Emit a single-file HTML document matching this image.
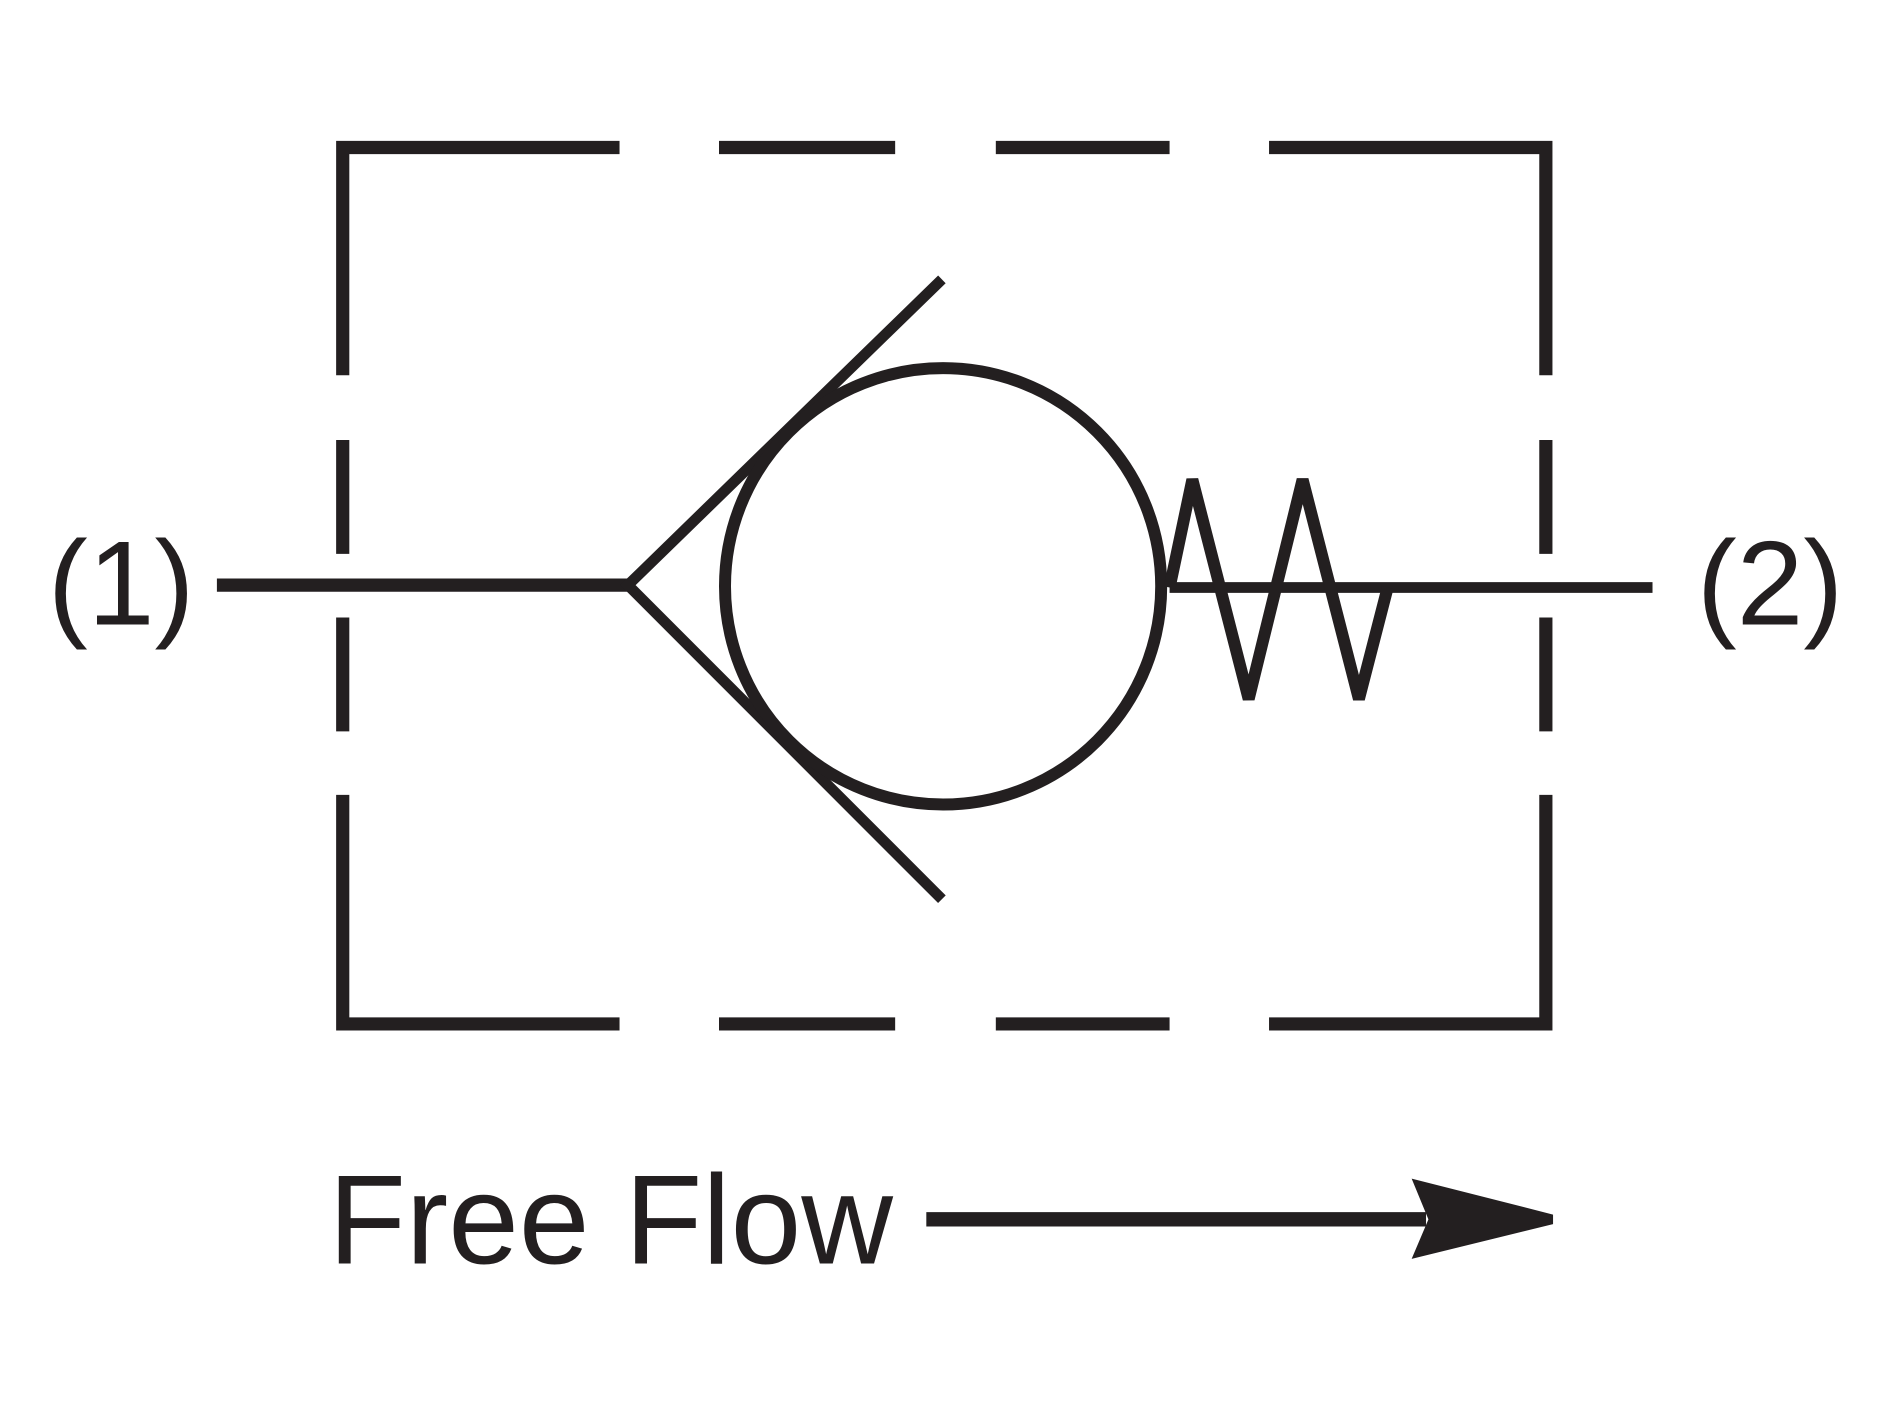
<!DOCTYPE html>
<html><head><style>html,body{margin:0;padding:0;background:#fff}svg{display:block}</style></head>
<body>
<svg width="1879" height="1410" viewBox="0 0 1568 1176" preserveAspectRatio="none" xmlns="http://www.w3.org/2000/svg">
<g stroke="#231f20" stroke-width="11" fill="none">
<path d="M286 313 V123 H517"/>
<path d="M600 123 H747 M831 123 H976"/>
<path d="M1059 123 H1290 V313"/>
<path d="M286 367 V462 M286 515 V610 M1290 367 V462 M1290 515 V610"/>
<path d="M286 663 V854 H517"/>
<path d="M600 854 H747 M831 854 H976"/>
<path d="M1059 854 H1290 V663"/>
<path d="M181 488 H524"/>
<path d="M786 233 L524 488 L786 750" stroke-width="9"/>
<circle cx="787" cy="489" r="182" stroke-width="10"/>
<path d="M976 490 H1379" stroke-width="9"/>
<path d="M976 490 L995 400 L1042 583 L1087 400 L1134 583 L1158 490" stroke-width="10" stroke-linejoin="miter"/>
<path d="M773 1017 H1190" stroke-width="12"/>
</g>
<path d="M1178 983 L1296 1013 V1021 L1178 1050 L1192 1017 Z" fill="#231f20"/>
<g font-family="Liberation Sans, sans-serif" fill="#231f20">
<text x="40" y="521" font-size="100">(1)</text>
<text x="1416" y="521" font-size="100">(2)</text>
<text x="274" y="1054" font-size="106">Free Flow</text>
</g>
</svg>
</body></html>
